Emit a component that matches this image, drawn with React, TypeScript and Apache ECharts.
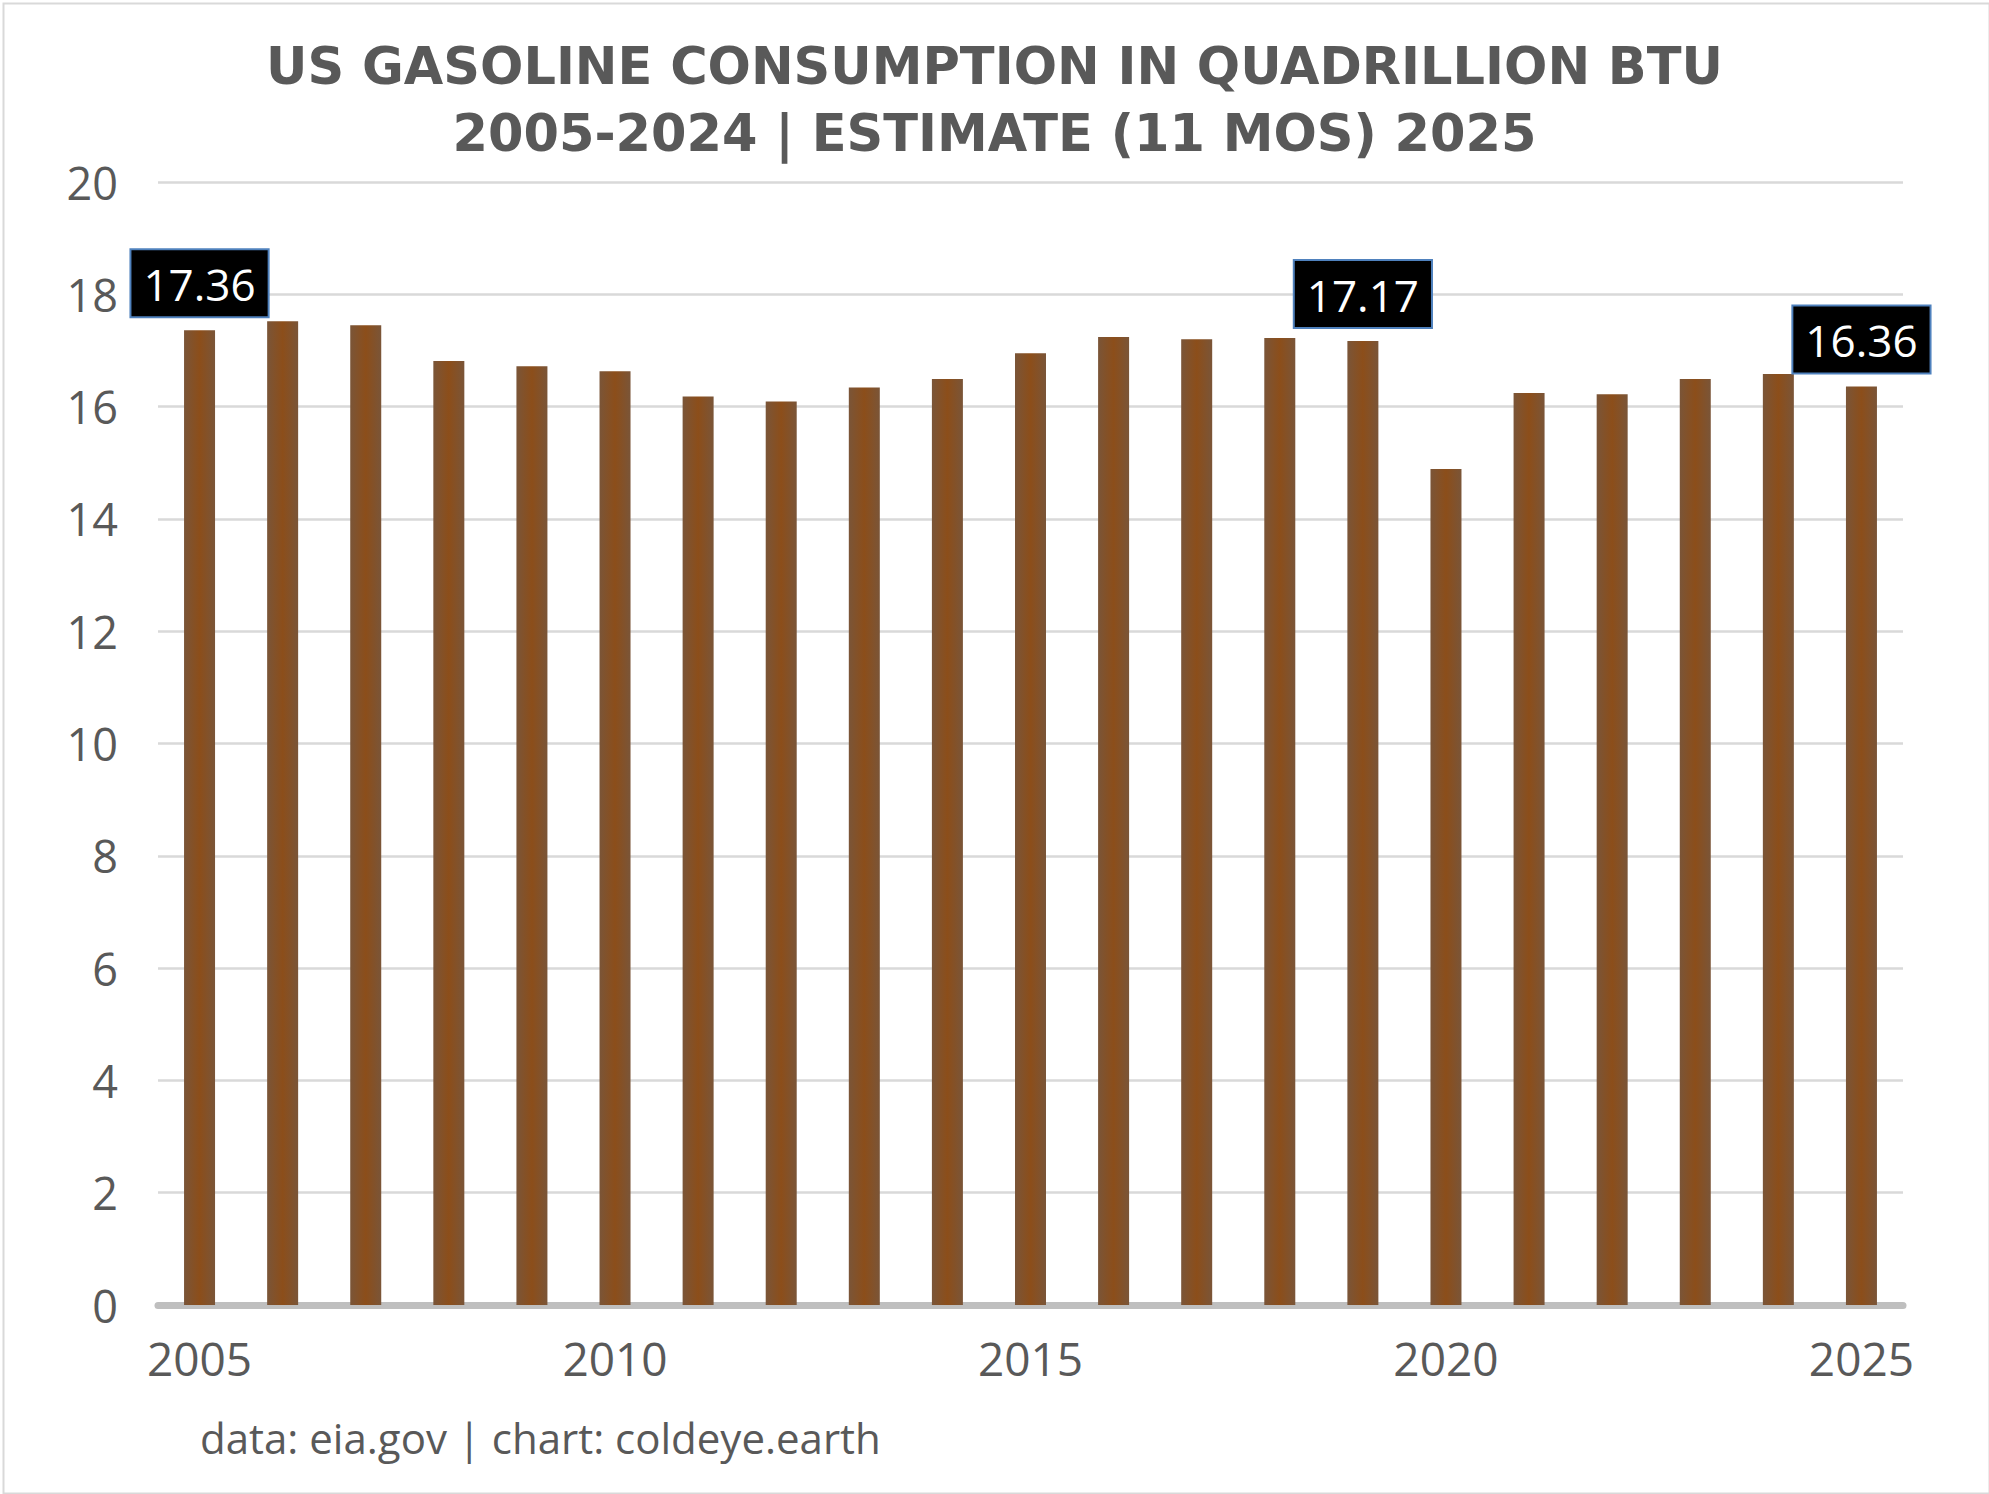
import * as echarts from "echarts";
import { useEffect, useRef } from "react";

const years = [
    "2005", "2006", "2007", "2008", "2009", "2010", "2011", "2012", "2013", "2014", "2015",
    "2016", "2017", "2018", "2019", "2020", "2021", "2022", "2023", "2024", "2025",
];
const consumption = [
    17.36, 17.52, 17.45, 16.81, 16.72, 16.63, 16.18, 16.09, 16.34, 16.49, 16.95,
    17.24, 17.2, 17.22, 17.17, 14.89, 16.24, 16.22, 16.49, 16.58, 16.36,
];
// years whose value gets a callout box
const labelledYears = ["2005", "2019", "2025"];

const titleText = "US GASOLINE CONSUMPTION IN QUADRILLION BTU\n2005-2024 | ESTIMATE (11 MOS) 2025";
const sourceText = "data: eia.gov | chart: coldeye.earth";

const App: React.FC = () => {
    const chartRef = useRef<HTMLDivElement>(null);

    useEffect(() => {
        const chart = echarts.init(chartRef.current!, null, { renderer: "svg" });

        const barColor = new echarts.graphic.LinearGradient(0, 0, 1, 0, [
            { offset: 0, color: "#7a5538" },
            { offset: 0.5, color: "#8c4e1a" },
            { offset: 1, color: "#7a5538" },
        ]);

        const option = {
            animation: false,
            backgroundColor: "#ffffff",
            title: {
                text: titleText,
                left: "center",
                top: 28,
                textStyle: {
                    fontFamily: "DejaVu Sans",
                    fontWeight: "bold",
                    fontSize: 51,
                    lineHeight: 67,
                    color: "#595959",
                },
            },
            grid: {
                left: 158,
                right: 86,
                top: 182,
                bottom: 189,
                containLabel: false,
            },
            xAxis: {
                type: "category",
                data: years,
                axisTick: { show: false },
                axisLine: { lineStyle: { color: "#bfbfbf", width: 7 } },
                axisLabel: {
                    interval: 4,
                    margin: 30,
                    fontFamily: "Open Sans",
                    fontSize: 46,
                    color: "#595959",
                },
            },
            yAxis: {
                type: "value",
                min: 0,
                max: 20,
                interval: 2,
                axisLine: { show: false },
                axisTick: { show: false },
                splitLine: { lineStyle: { color: "#d9d9d9", width: 2.5 } },
                axisLabel: {
                    margin: 40,
                    fontFamily: "Open Sans",
                    fontSize: 45,
                    color: "#595959",
                },
            },
            series: [
                {
                    type: "bar",
                    barWidth: 31,
                    itemStyle: { color: barColor },
                    data: consumption.map((v, i) => ({
                        value: v,
                        label: {
                            show: labelledYears.includes(years[i]),
                            position: "top",
                            distance: 14,
                            formatter: (p: any) => p.value.toFixed(2),
                            fontFamily: "Open Sans",
                            fontSize: 44,
                            color: "#ffffff",
                            backgroundColor: "#000000",
                            borderColor: "#4f81bd",
                            borderWidth: 2,
                            padding: [12, 12, 10, 12],
                        },
                    })),
                },
            ],
            graphic: [
                {
                    type: "rect",
                    left: 1,
                    top: 1,
                    shape: { width: 1986, height: 1490 },
                    style: { fill: "none", stroke: "#d9d9d9", lineWidth: 2 },
                    silent: true,
                },
                {
                    type: "text",
                    left: 200,
                    top: 1416,
                    style: {
                        text: sourceText,
                        fontFamily: "Open Sans",
                        fontSize: 42,
                        fill: "#595959",
                    },
                },
            ],
        };

        chart.setOption(option);

        return () => {
            chart.dispose();
        };
    }, []);

    return (
        <div
            ref={chartRef}
            style={{
                position: "fixed",
                left: 0,
                top: 0,
                width: "1989px",
                height: "1494px",
            }}
        />
    );
};

export default App;
